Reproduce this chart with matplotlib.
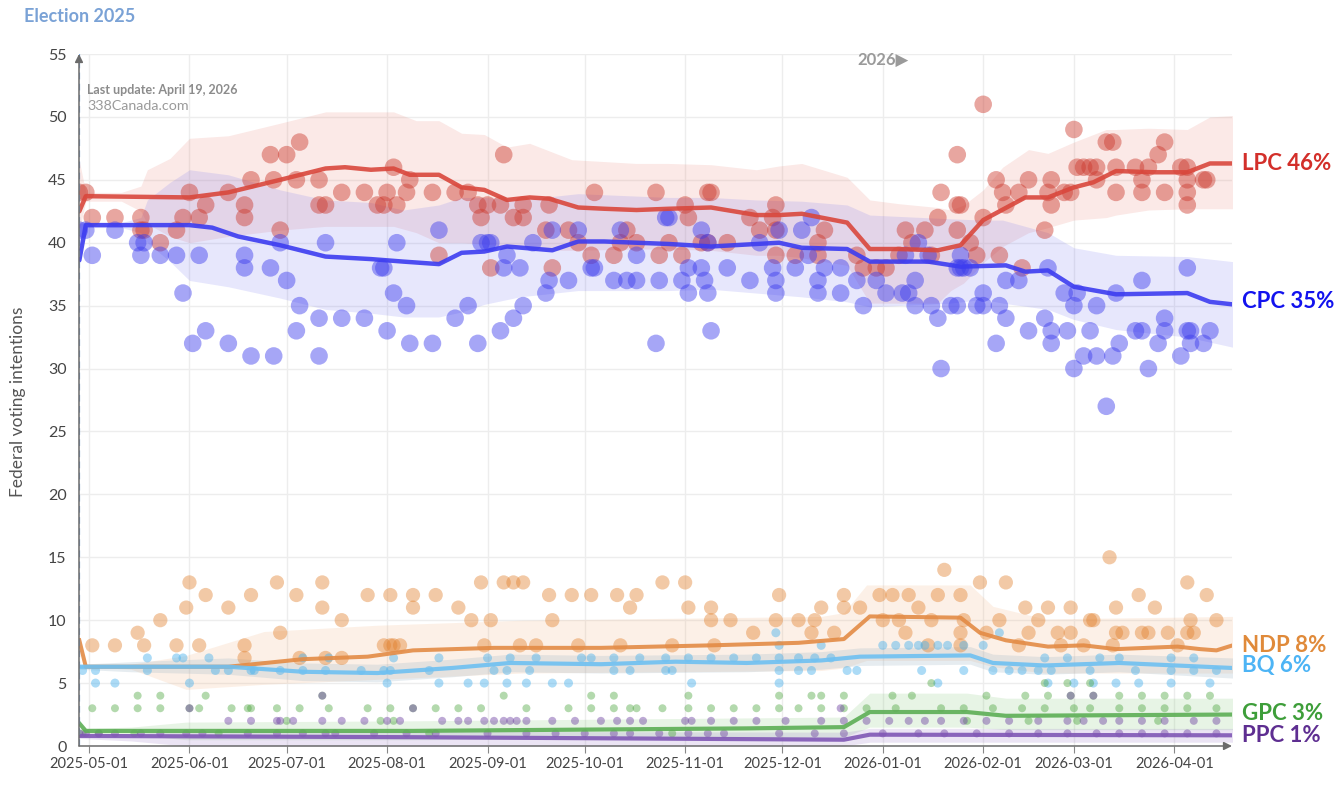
import numpy as np
import pandas as pd
import matplotlib
matplotlib.use("Agg")
import matplotlib.pyplot as plt
import matplotlib.dates as mdates

plt.rcParams['font.family'] = ['Lato', 'DejaVu Sans']

# days are counted from 2025-05-01
BASE = mdates.date2num(pd.Timestamp('2025-05-01').to_pydatetime())

# ---------------- LPC ----------------
lpc_days = [-3, -1, 1, 8, 16, 16, 17, 22, 27, 29,
            31, 34, 36, 43, 48, 48, 50, 56, 57, 59,
            61, 64, 65, 71, 71, 73, 78, 85, 89, 91,
            92, 94, 95, 98, 99, 106, 108, 113, 117, 120,
            121, 123, 124, 127, 128, 131, 134, 134, 141, 142,
            143, 148, 151, 155, 156, 162, 164, 166, 169, 175,
            176, 179, 183, 184, 185, 189, 191, 192, 191, 197,
            204, 207, 211, 212, 212, 212, 218, 225, 225, 227,
            237, 239, 243, 246, 250, 252, 254, 258, 260, 262,
            263, 268, 268, 268, 269, 272, 274, 276, 276, 280,
            281, 282, 283, 287, 288, 290, 295, 296, 297, 297,
            301, 303, 304, 305, 307, 309, 311, 311, 314, 316,
            317, 317, 323, 325, 325, 327, 330, 332, 332, 337,
            339, 339, 339, 339, 344, 345]
lpc_vals = [44, 44, 42, 42, 42, 41, 41, 40, 41, 42,
            44, 42, 43, 44, 43, 42, 45, 47, 45, 41,
            47, 45, 48, 45, 43, 43, 44, 44, 43, 43,
            44, 46, 43, 44, 45, 44, 39, 44, 44, 43,
            42, 43, 38, 43, 47, 42, 43, 42, 41, 43,
            38, 41, 40, 39, 44, 39, 40, 41, 40, 44,
            39, 40, 39, 43, 42, 40, 44, 44, 40, 40,
            42, 41, 42, 43, 39, 41, 39, 40, 39, 41,
            39, 38, 38, 38, 39, 41, 40, 41, 39, 42,
            44, 43, 47, 41, 43, 40, 39, 42, 51, 45,
            39, 44, 43, 44, 38, 45, 41, 44, 45, 43,
            44, 44, 49, 46, 46, 46, 46, 45, 48, 48,
            44, 46, 46, 45, 44, 46, 47, 48, 44, 46,
            46, 45, 44, 43, 45, 45]
lpc_trend_days = [-3, -1, 31, 43, 59, 73, 79, 87, 94, 99,
                  108, 115, 122, 129, 136, 142, 151, 159, 169, 179,
                  192, 206, 213, 220, 234, 241, 250, 262, 269, 276,
                  289, 296, 304, 310, 317, 329, 339, 346, 353]
lpc_trend = [42.5, 43.7, 43.6, 44.0, 45.0, 45.9, 46.0, 45.8, 45.9, 45.4,
             45.4, 44.4, 44.2, 43.4, 43.6, 43.5, 42.8, 42.7, 42.6, 42.7,
             42.8, 42.2, 42.2, 42.3, 41.6, 39.5, 39.5, 39.4, 39.8, 41.8,
             43.6, 43.6, 44.4, 44.8, 45.7, 45.6, 45.6, 46.3, 46.3]
lpc_band_days = [-3, -1, 10, 16, 18, 25, 31, 43, 59, 73,
                 87, 94, 101, 108, 115, 122, 129, 136, 142, 149,
                 169, 179, 192, 206, 213, 220, 234, 241, 250, 262,
                 266, 270, 276, 282, 290, 296, 304, 314, 317, 327,
                 339, 346, 353]
lpc_lo = [41.0, 43.3, 43.3, 42.5, 41.5, 40.5, 40.0, 40.5, 41.0, 41.3,
          41.3, 41.3, 40.8, 40.0, 40.0, 39.9, 39.7, 39.6, 39.4, 39.4,
          39.5, 39.5, 39.4, 39.0, 39.0, 38.8, 38.2, 35.2, 35.2, 35.2,
          36.2, 36.8, 38.4, 39.7, 40.8, 41.2, 41.8, 42.0, 42.2, 42.6,
          42.7, 42.7, 42.7]
lpc_hi = [46.5, 44.0, 44.0, 44.5, 45.8, 46.7, 48.3, 48.5, 49.5, 50.4,
          50.4, 50.4, 49.7, 49.7, 48.7, 48.6, 47.6, 47.9, 47.3, 46.6,
          46.3, 46.3, 46.2, 45.8, 46.1, 46.3, 45.2, 43.4, 43.1, 42.8,
          42.6, 43.0, 44.2, 46.0, 47.4, 47.1, 48.0, 49.0, 49.0, 49.1,
          49.0, 50.0, 50.1]

# ---------------- CPC ----------------
cpc_days = [-3, -1, 1, 8, 15, 16, 17, 22, 27, 29,
            32, 34, 36, 43, 48, 48, 50, 56, 57, 59,
            61, 64, 65, 71, 71, 73, 78, 85, 90, 91,
            92, 94, 95, 98, 99, 106, 108, 113, 117, 120,
            121, 123, 124, 127, 128, 129, 131, 133, 134, 137,
            141, 142, 143, 148, 151, 155, 156, 162, 164, 166,
            169, 169, 175, 176, 178, 179, 183, 185, 185, 189,
            189, 190, 191, 191, 192, 197, 204, 207, 211, 212,
            212, 213, 218, 220, 222, 223, 225, 225, 227, 232,
            232, 237, 239, 243, 246, 251, 253, 252, 255, 255,
            256, 259, 260, 262, 263, 266, 268, 268, 269, 269,
            270, 272, 274, 276, 276, 280, 281, 283, 283, 287,
            290, 295, 296, 297, 297, 301, 302, 304, 304, 305,
            307, 309, 311, 311, 314, 316, 317, 318, 323, 325,
            325, 327, 330, 332, 332, 337, 339, 339, 340, 340,
            344, 346]
cpc_vals = [41, 41, 39, 41, 40, 39, 40, 39, 39, 36,
            32, 39, 33, 32, 39, 38, 31, 38, 31, 40,
            37, 33, 35, 34, 31, 40, 34, 34, 38, 38,
            33, 36, 40, 35, 32, 32, 41, 34, 35, 32,
            40, 40, 40, 33, 38, 39, 34, 38, 35, 40,
            36, 37, 41, 37, 41, 38, 38, 37, 41, 37,
            39, 37, 32, 37, 42, 42, 37, 38, 36, 41,
            38, 37, 40, 36, 33, 38, 37, 40, 38, 37,
            36, 41, 38, 41, 39, 42, 37, 36, 38, 38,
            36, 37, 35, 37, 36, 36, 36, 39, 37, 35,
            40, 39, 35, 34, 30, 35, 35, 38, 38, 39,
            38, 38, 35, 35, 36, 32, 35, 37, 34, 37,
            33, 34, 38, 33, 32, 36, 33, 35, 30, 36,
            31, 33, 35, 31, 27, 31, 36, 32, 33, 33,
            37, 30, 32, 34, 33, 31, 38, 33, 33, 32,
            32, 33]
cpc_trend_days = [-3, -1, 31, 38, 46, 59, 73, 87, 97, 108,
                  115, 122, 129, 143, 151, 159, 179, 192, 206, 213,
                  220, 234, 241, 259, 269, 283, 289, 296, 304, 317,
                  339, 346, 353]
cpc_trend = [38.6, 41.4, 41.4, 41.2, 40.5, 39.8, 38.9, 38.7, 38.5, 38.3,
             39.2, 39.3, 39.7, 39.4, 40.1, 40.1, 39.9, 39.7, 39.9, 40.0,
             39.6, 39.5, 38.5, 38.5, 38.1, 38.2, 37.7, 37.8, 36.5, 35.9,
             36.0, 35.3, 35.1]
cpc_band_days = [-3, -1, 10, 16, 18, 25, 31, 43, 59, 73,
                 87, 97, 108, 115, 122, 133, 151, 179, 192, 206,
                 220, 234, 241, 266, 276, 282, 296, 304, 317, 339,
                 353]
cpc_lo = [38.5, 41.2, 41.2, 40.8, 40.0, 38.5, 37.0, 36.5, 35.6, 34.7,
          34.4, 34.1, 34.1, 34.5, 35.1, 35.7, 36.2, 36.2, 36.3, 36.0,
          35.7, 35.3, 34.9, 35.2, 35.5, 35.2, 34.7, 33.9, 33.1, 32.5,
          31.7]
cpc_hi = [41.5, 41.6, 41.6, 42.0, 43.4, 44.8, 45.8, 45.4, 44.2, 43.4,
          43.2, 42.6, 43.0, 43.6, 43.6, 43.4, 43.9, 43.6, 43.6, 43.4,
          43.3, 43.0, 42.2, 41.9, 41.8, 41.8, 40.8, 39.6, 39.0, 38.9,
          38.5]

# ---------------- NDP ----------------
ndp_days = [1, 8, 15, 17, 22, 27, 30, 31, 36, 43,
            48, 50, 58, 59, 64, 72, 72, 78, 86, 93,
            93, 96, 100, 100, 107, 114, 118, 121, 122, 124,
            128, 131, 134, 133, 138, 142, 143, 149, 151, 155,
            163, 164, 167, 169, 177, 180, 184, 185, 192, 192,
            193, 198, 205, 212, 213, 219, 224, 226, 233, 233,
            238, 244, 248, 253, 256, 262, 264, 269, 270, 275,
            281, 283, 289, 293, 296, 299, 303, 309, 310, 315,
            317, 319, 324, 327, 329, 333, 339, 340, 341, 345,
            348, 223, 230, 252, 269, 277, 290, 303, 317, 325,
            339, 259, 269, 287, 300, 307, 316, 336, 245, 250,
            260, 48, 65, 73, 78, 91, 94, 34]
ndp_vals = [8, 8, 9, 8, 10, 8, 11, 13, 12, 11,
            8, 12, 13, 9, 12, 13, 11, 10, 12, 12,
            8, 8, 12, 11, 12, 11, 10, 13, 8, 10,
            13, 13, 13, 8, 8, 12, 10, 12, 8, 12,
            12, 8, 11, 12, 13, 8, 13, 11, 11, 10,
            8, 10, 9, 10, 12, 10, 10, 11, 12, 11,
            11, 12, 12, 12, 11, 12, 14, 12, 10, 13,
            10, 13, 11, 10, 11, 9, 11, 10, 10, 15,
            11, 9, 12, 9, 11, 9, 13, 10, 9, 12,
            10, 9, 9, 9, 9, 9, 9, 9, 9, 9,
            9, 8, 8, 8, 8, 8, 8, 8, 10, 10,
            10, 7, 7, 7, 7, 8, 8, 8]
ndp_trend_days = [-3, -1, 43, 66, 86, 100, 125, 158, 192, 219,
                  233, 241, 269, 275, 283, 296, 307, 317, 336, 343,
                  348, 353]
ndp_trend = [8.4, 6.3, 6.3, 6.9, 7.1, 7.6, 7.8, 7.8, 8.0, 8.2,
             8.5, 10.3, 10.2, 9.0, 8.4, 7.9, 8.0, 7.7, 7.9, 7.7,
             7.6, 8.0]
ndp_band_days = [-1, 13, 30, 54, 89, 134, 226, 233, 240, 272, 279, 295, 353]
ndp_lo = [6.3, 6.1, 4.5, 4.9, 5.3, 5.8, 6.0, 6.2, 6.8, 6.8, 6.3, 5.8, 5.8]
ndp_hi = [6.3, 6.5, 7.2, 9.1, 9.6, 10.0, 10.3, 10.6, 12.8, 12.8, 11.1, 10.1, 10.3]

# ---------------- BQ ----------------
bq_levels = [5, 6, 7, 8, 9]
bq_days_by_level = [
    [2, 8, 31, 92, 108, 117, 122, 129, 135, 143, 148, 186, 213, 262, 296,
     304, 310, 317, 324, 334, 346],
    [-2, 2, 18, 39, 43, 50, 51, 59, 66, 73, 84, 91, 93, 105, 125, 129, 136,
     162, 167, 178, 180, 213, 219, 223, 234, 237, 257, 270, 279, 284, 288,
     293, 297, 309, 323, 334, 341, 348],
    [18, 27, 29, 37, 66, 74, 94, 108, 123, 130, 138, 152, 155, 162, 170, 178,
     185, 192, 199, 206, 213, 219, 224, 229, 295, 302, 312, 318, 334, 341],
    [213, 226, 245, 249, 253, 256, 258, 262, 265, 270, 276],
    [212, 281],
]
bq_trend_days = [-3, 43, 66, 89, 112, 130, 158, 181, 203, 226, 238, 272, 279, 295, 318, 353]
bq_trend = [6.3, 6.3, 5.9, 5.8, 6.2, 6.6, 6.5, 6.7, 6.6, 6.8, 7.1, 7.2, 6.6, 6.4, 6.6, 6.2]
bq_band_days = [-3, 13, 43, 66, 89, 112, 130, 158, 203, 226, 238, 272, 279, 295, 318, 353]
bq_lo = [6.1, 5.9, 5.7, 5.2, 5.1, 5.5, 5.9, 5.8, 5.9, 6.1, 6.4, 6.5, 5.9, 5.7, 5.9, 5.4]
bq_hi = [6.5, 6.7, 7.0, 6.6, 6.5, 6.9, 7.3, 7.2, 7.3, 7.5, 7.8, 7.9, 7.3, 7.1, 7.3, 7.0]

# ---------------- GPC ----------------
gpc_levels = [1, 2, 3, 4, 5]
gpc_days_by_level = [
    [-2, 3, 14, 40, 105, 180],
    [61, 90, 94, 271, 290, 305, 330],
    [1, 8, 15, 22, 31, 34, 44, 49, 50, 58, 65, 74, 86, 93, 100, 107, 114, 121,
     135, 148, 155, 162, 167, 169, 177, 185, 192, 199, 206, 213, 219, 226, 233,
     240, 249, 263, 270, 279, 288, 295, 304, 309, 318, 325, 332, 339, 348],
    [15, 22, 36, 72, 128, 155, 162, 185, 213, 223, 226, 233, 248, 254, 277, 289,
     296, 303, 310, 318, 325, 332, 339, 346],
    [260, 295, 302, 309],
]
gpc_trend_days = [-3, -1, 100, 203, 233, 241, 271, 283, 353]
gpc_trend = [1.8, 1.2, 1.2, 1.4, 1.5, 2.7, 2.7, 2.4, 2.5]
gpc_band_days = [-1, 13, 30, 100, 233, 241, 271, 283, 353]
gpc_lo = [1.0, 0.9, 0.5, 0.5, 0.7, 1.5, 1.5, 1.3, 1.3]
gpc_hi = [1.4, 1.5, 1.9, 2.0, 2.3, 4.2, 4.2, 3.8, 3.8]

# ---------------- PPC ----------------
ppc_levels = [1, 2, 3, 4]
ppc_days_by_level = [
    [-3, -1, 3, 8, 16, 22, 30, 35, 49, 58, 66, 73, 76, 88, 98, 107, 123, 135,
     144, 153, 162, 167, 176, 185, 191, 196, 213, 224, 233, 245, 256, 264, 274,
     284, 293, 302, 311, 318, 325, 332, 339, 348],
    [43, 50, 58, 59, 63, 72, 78, 85, 92, 96, 109, 114, 117, 122, 125, 128, 130,
     132, 135, 143, 150, 158, 163, 167, 171, 184, 186, 192, 199, 206, 215, 226,
     233, 240, 247, 253, 258, 263, 270, 277, 284, 293, 302, 307, 313, 318, 325,
     332, 341, 348],
    [31, 100, 232],
    [72, 303, 310],
]
ppc_trend_days = [-3, 100, 200, 233, 241, 353]
ppc_trend = [0.8, 0.7, 0.55, 0.5, 0.9, 0.85]
ppc_band_days = [-3, 13, 30, 233, 241, 353]
ppc_lo = [0.6, 0.4, 0.0, 0.0, 0.3, 0.3]
ppc_hi = [0.9, 1.0, 1.2, 1.1, 1.4, 1.4]

labels = ['LPC 46%', 'CPC 35%', 'NDP 8%', 'BQ 6%', 'GPC 3%', 'PPC 1%']
label_colors = ['#D32F2A', '#1212EE', '#E08A3A', '#4DB4F5', '#3E9E3A', '#5E2E91']


def to_x(days):
    return BASE + np.asarray(days, dtype=float)


def level_points(levels, days_by_level):
    xs, ys = [], []
    for lev, ds in zip(levels, days_by_level):
        xs.extend(ds)
        ys.extend([lev] * len(ds))
    return to_x(xs), np.array(ys, dtype=float)


fig = plt.figure(figsize=(13.42, 7.86), dpi=100)
ax = fig.add_axes([79 / 1342, 40 / 786, (1232 - 79) / 1342, (746 - 54) / 786])

# uncertainty bands
ax.fill_between(to_x(lpc_band_days), lpc_lo, lpc_hi, color='#E8776A', alpha=0.16, lw=0, zorder=1)
ax.fill_between(to_x(cpc_band_days), cpc_lo, cpc_hi, color='#6A6AF2', alpha=0.16, lw=0, zorder=1)
ax.fill_between(to_x(ndp_band_days), ndp_lo, ndp_hi, color='#F0A060', alpha=0.15, lw=0, zorder=1)
ax.fill_between(to_x(bq_band_days), bq_lo, bq_hi, color='#9DB5C5', alpha=0.25, lw=0, zorder=1)
ax.fill_between(to_x(gpc_band_days), gpc_lo, gpc_hi, color='#7BC46F', alpha=0.18, lw=0, zorder=1)
ax.fill_between(to_x(ppc_band_days), ppc_lo, ppc_hi, color='#9B7CC8', alpha=0.2, lw=0, zorder=1)

# polls
ax.scatter(to_x(lpc_days), lpc_vals, s=160, color='#CC3A2E', alpha=0.45, edgecolors='none', zorder=2)
ax.scatter(to_x(cpc_days), cpc_vals, s=160, color='#3B3BED', alpha=0.45, edgecolors='none', zorder=2)
ax.scatter(to_x(ndp_days), ndp_vals, s=105, color='#E2802C', alpha=0.42, edgecolors='none', zorder=2)
bx, by = level_points(bq_levels, bq_days_by_level)
ax.scatter(bx, by, s=42, color='#48B1ED', alpha=0.45, edgecolors='none', zorder=2)
gx, gy = level_points(gpc_levels, gpc_days_by_level)
ax.scatter(gx, gy, s=33, color='#43A034', alpha=0.4, edgecolors='none', zorder=2)
px, py = level_points(ppc_levels, ppc_days_by_level)
ax.scatter(px, py, s=33, color='#6E41A2', alpha=0.45, edgecolors='none', zorder=2)

# trend lines
ax.plot(to_x(lpc_trend_days), lpc_trend, color='#D9473C', lw=3.2, alpha=0.9, zorder=3, solid_capstyle='round')
ax.plot(to_x(cpc_trend_days), cpc_trend, color='#3C3CF0', lw=3.2, alpha=0.9, zorder=3, solid_capstyle='round')
ax.plot(to_x(ndp_trend_days), ndp_trend, color='#E38B45', lw=2.9, alpha=0.9, zorder=3)
ax.plot(to_x(bq_trend_days), bq_trend, color='#6EC0F2', lw=3, alpha=0.9, zorder=3)
ax.plot(to_x(gpc_trend_days), gpc_trend, color='#5DAE55', lw=3, alpha=0.9, zorder=3)
ax.plot(to_x(ppc_trend_days), ppc_trend, color='#8057B5', lw=3, alpha=0.9, zorder=3)

# end labels
ends = [lpc_trend[-1], cpc_trend[-1] + 0.2, ndp_trend[-1], bq_trend[-1] + 0.2,
        gpc_trend[-1] + 0.1, ppc_trend[-1]]
for text, col, yv in zip(labels, label_colors, ends):
    ax.annotate(text, xy=(1, yv), xycoords=('axes fraction', 'data'),
                xytext=(7, 0), textcoords='offset points', va='center', ha='left',
                fontsize=16, fontweight='bold', color=col, annotation_clip=False)

ax.set_xlim(BASE - 3.1, BASE + 352.8)
ax.set_ylim(0, 55)
ax.set_yticks(np.arange(0, 56, 5))
ax.xaxis.set_major_locator(mdates.MonthLocator())
ax.xaxis.set_major_formatter(mdates.DateFormatter('%Y-%m-%d'))
ax.grid(True, color='#EDEDED', lw=1)
ax.set_axisbelow(True)
for sp in ax.spines.values():
    sp.set_visible(False)
ax.tick_params(axis='y', length=0, labelsize=11.5, labelcolor='#444', pad=9)
ax.tick_params(axis='x', length=5, color='#888', labelsize=10.5, labelcolor='#444', pad=3)

# election day marker and axis arrows
ax.axvline(BASE - 3.1, color='#7EA6DA', lw=1.6, ls=(0, (3, 2)), zorder=4)
ax.annotate('', xy=(0, 1.0), xytext=(0, 0), xycoords='axes fraction',
            arrowprops=dict(arrowstyle='-|>', color='#6B6B6B', lw=1.1, mutation_scale=12,
                            shrinkA=0, shrinkB=0), zorder=5)
ax.annotate('', xy=(1.0, 0), xytext=(0, 0), xycoords='axes fraction',
            arrowprops=dict(arrowstyle='-|>', color='#6B6B6B', lw=1.1, mutation_scale=12,
                            shrinkA=0, shrinkB=0), zorder=5)

ax.text(mdates.date2num(pd.Timestamp('2026-01-01').to_pydatetime()), 54.5, '2026\u25B6',
        ha='center', va='center', fontsize=12, fontweight='bold', color='#9A9A9A',
        family=['Lato', 'DejaVu Sans'])

fig.text(24 / 1342, 1 - 16 / 786, 'Election 2025', fontsize=13, fontweight='bold',
         color='#7AA2D6', va='center', ha='left')
fig.text(87 / 1342, 1 - 90 / 786, 'Last update: April 19, 2026', fontsize=9,
         fontweight='bold', color='#8C8C8C', va='center', ha='left')
fig.text(87 / 1342, 1 - 106 / 786, '338Canada.com', fontsize=10.3, color='#9A9A9A',
         va='center', ha='left')
fig.text(18 / 1342, 1 - 402 / 786, 'Federal voting intentions', rotation=90, fontsize=12.5,
         color='#555555', va='center', ha='center')

fig.savefig('out.png', dpi=100)
